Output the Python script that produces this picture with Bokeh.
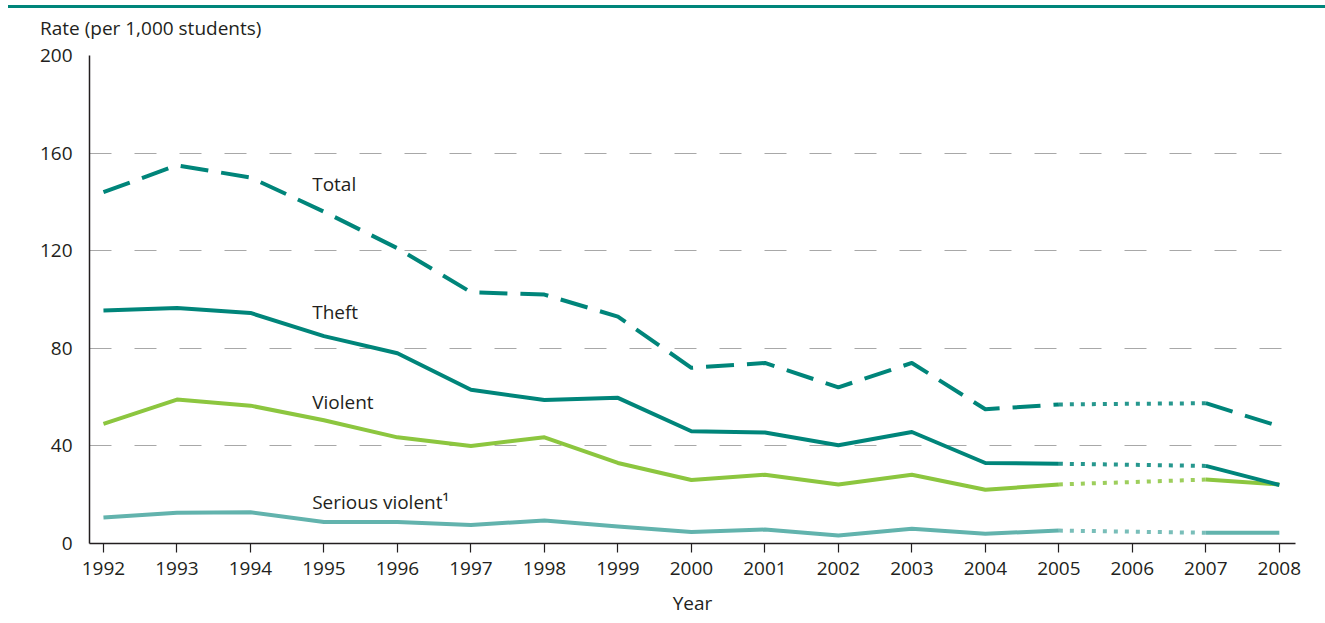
from bokeh.plotting import figure
from bokeh.models import Div, Label
from bokeh.layouts import column
from bokeh.embed import file_html
from bokeh.resources import INLINE

years = ["1992", "1993", "1994", "1995", "1996", "1997", "1998", "1999", "2000",
         "2001", "2002", "2003", "2004", "2005", "2006", "2007", "2008"]
total = [144, 155, 150, 136, 121, 103, 102, 93, 72, 74, 64, 74, 55, 57, None, 57.5, 48]
theft = [95.5, 96.5, 94.5, 85, 78, 63, 58.8, 59.7, 46, 45.5, 40.3, 45.7, 33, 32.7, None, 31.8, 24]
violent = [49, 59, 56.5, 50.5, 43.5, 40, 43.5, 33, 26, 28.2, 24.2, 28.2, 22, 24.2, None, 26.2, 24.2]
serious = [10.7, 12.6, 12.8, 8.8, 8.8, 7.6, 9.4, 7, 4.7, 5.7, 3.3, 6, 4, 5.3, None, 4.4, 4.4]
y_ticks = [0, 40, 80, 120, 160, 200]
y_title = "Rate (per 1,000 students)"

FONT = "Open Sans"
FS = "19px"
TXT = "#231f20"
TEAL = "#00857a"
GREEN = "#8cc63f"
LTEAL = "#62b3ad"

rule = Div(width=1317, height=3, styles={"background-color": TEAL}, margin=(5, 0, 0, 8))
title_div = Div(text=y_title, width=400, height=24, margin=(8, 0, 0, 40),
                styles={"font-family": FONT, "font-size": FS, "line-height": "24px",
                        "color": TXT, "white-space": "nowrap"})

p = figure(width=1317, height=580, output_backend="svg", toolbar_location=None,
           x_range=(-0.19, 16.22), y_range=(0, 200),
           min_border_left=89, min_border_right=22, min_border_bottom=77, min_border_top=15)

p.outline_line_color = None
p.xgrid.visible = False
p.ygrid.grid_line_color = "#a8a8a8"
p.ygrid.grid_line_dash = "22 23"
p.ygrid.grid_line_width = 1

xs = list(range(len(years)))
p.xaxis.ticker = xs
p.xaxis.major_label_overrides = {i: y for i, y in enumerate(years)}
p.yaxis.ticker = y_ticks
for ax in (p.xaxis[0], p.yaxis[0]):
    ax.axis_line_color = TXT
    ax.axis_line_width = 1.5
    ax.major_label_text_font = FONT
    ax.major_label_text_font_size = FS
    ax.major_label_text_color = TXT
    ax.minor_tick_line_color = None
    ax.major_tick_in = 0
p.xaxis.major_tick_out = 9
p.xaxis.major_tick_line_color = TXT
p.xaxis.major_tick_line_width = 1.2
p.xaxis.major_label_standoff = 9
p.yaxis.major_tick_out = 0
p.yaxis.major_label_standoff = 17
p.xaxis.axis_label = "Year"
p.xaxis.axis_label_text_font = FONT
p.xaxis.axis_label_text_font_size = FS
p.xaxis.axis_label_text_font_style = "normal"
p.xaxis.axis_label_text_color = TXT
p.xaxis.axis_label_standoff = 12

gap = years.index("2006")
a, b = gap - 1, gap + 1


def draw(vals, color, dash_main):
    p.line(xs[:gap], vals[:gap], line_color=color, line_width=4, line_dash=dash_main, line_join="round")
    p.line([xs[a], xs[b]], [vals[a], vals[b]], line_color=color, line_width=4, line_dash="4 7", line_alpha=0.85)
    p.line(xs[b:], vals[b:], line_color=color, line_width=4, line_dash=dash_main)


draw(serious, LTEAL, "solid")
draw(violent, GREEN, "solid")
draw(theft, TEAL, "solid")
draw(total, TEAL, "28 13")

labels = [("Total", 147.5), ("Theft", 95), ("Violent", 58), ("Serious violent\u00b9", 17)]
for t, y in labels:
    p.add_layout(Label(x=2.84, y=y, text=t, text_font=FONT, text_font_size=FS,
                       text_color=TXT, text_baseline="middle", text_align="left"))

layout = column(rule, title_div, p, spacing=0)
open("out.html", "w").write(file_html(layout, INLINE))
